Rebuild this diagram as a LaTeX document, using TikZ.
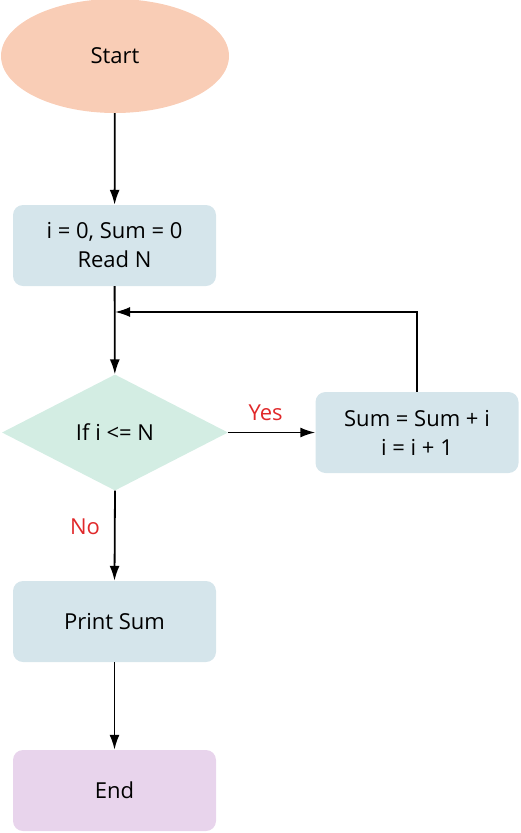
\documentclass[tikz,border=0pt]{standalone}
\usepackage{fontspec}
\setmainfont{Open Sans}
\usetikzlibrary{shapes.geometric,arrows.meta}
\definecolor{cstart}{HTML}{F9CDB6}
\definecolor{cbox}{HTML}{D5E5EB}
\definecolor{cdia}{HTML}{D3EDE3}
\definecolor{cend}{HTML}{E8D4EC}
\definecolor{cred}{HTML}{E0282A}
\begin{document}
\begin{tikzpicture}[x=1pt,y=-1pt,
  every node/.style={font=\fontsize{22}{29}\selectfont,align=center,inner sep=0pt},
  box/.style={rounded corners=10pt,minimum width=203pt,minimum height=81pt},
  arr/.style={line width=1.8pt,-{Latex[length=15pt,width=10pt]}},
  lbl/.style={text=cred}]
\useasboundingbox (0,0) rectangle (520,833);
\node[ellipse,fill=cstart,minimum width=228pt,minimum height=114pt] (start) at (115,56) {Start};
\node[box,fill=cbox] (init) at (114.5,245.5) {i = 0, Sum = 0\\Read N};
\node[diamond,fill=cdia,minimum width=226pt,minimum height=116pt,aspect=2] (cond) at (115,432.5) {If i <= N};
\node[box,fill=cbox] (upd) at (417,432.5) {Sum = Sum + i\\i = i + 1};
\node[box,fill=cbox] (print) at (114.5,621.5) {Print Sum};
\node[box,fill=cend] (end) at (114.5,790.5) {End};
\coordinate (c1) at (417,312);
\coordinate (c2) at (115,312);
\draw[arr] (start) -- (init);
\draw[arr] (init) -- (cond);
\draw[arr] (cond.east) -- node[lbl,above=11pt,pos=0.43] {Yes} (upd.west);
\draw[arr] (cond.south) -- node[lbl,left=14pt,pos=0.4] {No} (print.north);
\draw[arr] (print) -- (end);
\draw[arr] (upd.north) -- (c1) -- (c2);
\end{tikzpicture}
\end{document}
